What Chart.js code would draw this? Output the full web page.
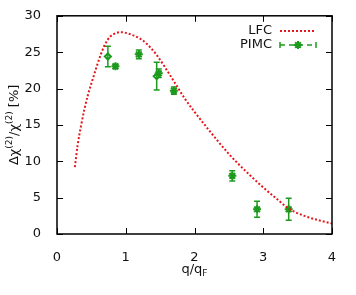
<!DOCTYPE html>
<html lang="en">
<head>
<meta charset="UTF-8" />
<title>LFC vs PIMC</title>
<script src="https://cdn.jsdelivr.net/npm/chart.js@4.4.1/dist/chart.umd.min.js"></script>
<style>
  html, body { margin: 0; padding: 0; background: #fff; }
  #wrap { width: 356px; height: 295px; }
</style>
</head>
<body>
<div id="wrap"><canvas id="c"></canvas></div>
<script>
// LFC curve
const lfcQ   = [0.26, 0.30, 0.35, 0.40, 0.45, 0.53, 0.63, 0.70, 0.77, 0.85, 0.92, 1.00, 1.10, 1.21, 1.30, 1.45, 1.64, 1.86, 2.00, 2.20, 2.50, 2.81, 3.00, 3.20, 3.37, 3.61, 3.80, 4.00];
const lfcVal = [9.2, 12.2, 14.9, 17.2, 19.1, 21.6, 24.5, 26.1, 27.1, 27.6, 27.75, 27.65, 27.35, 26.85, 26.2, 24.6, 21.9, 18.6, 16.8, 14.4, 11.0, 8.05, 6.4, 4.8, 3.5, 2.45, 1.9, 1.45];

// PIMC points (star markers)
const pimcQ   = [0.85, 1.19, 1.48, 1.70, 2.55, 2.91, 3.37];
const pimcVal = [23.05, 24.7, 22.1, 19.7, 8.0, 3.4, 3.4];
const pimcErr = [0.3, 0.6, 0.6, 0.5, 0.7, 1.1, 1.5];

// PIMC points (diamond markers)
const pimcDQ   = [0.74, 1.45];
const pimcDVal = [24.4, 21.7];
const pimcDErr = [1.4, 1.9];

const xTicks = [0, 1, 2, 3, 4];
const yTicks = [0, 5, 10, 15, 20, 25, 30];

const RED = '#e3171c';
const GREEN = '#1d9a1d';

function pts(xs, ys) { return xs.map((x, i) => ({ x: x, y: ys[i] })); }

// error bars, frame, inward ticks, titles and legend
const decor = {
  id: 'decor',
  beforeDatasetsDraw(chart) {
    const ctx = chart.ctx, xs = chart.scales.x, ys = chart.scales.y;
    ctx.save();
    ctx.strokeStyle = GREEN;
    ctx.lineWidth = 1.5;
    const bars = [[pimcQ, pimcVal, pimcErr], [pimcDQ, pimcDVal, pimcDErr]];
    bars.forEach(([q, v, e]) => {
      q.forEach((qq, i) => {
        const px = xs.getPixelForValue(qq);
        const top = ys.getPixelForValue(v[i] + e[i]);
        const bot = ys.getPixelForValue(v[i] - e[i]);
        ctx.beginPath();
        ctx.moveTo(px, top); ctx.lineTo(px, bot);
        ctx.moveTo(px - 3, top); ctx.lineTo(px + 3, top);
        ctx.moveTo(px - 3, bot); ctx.lineTo(px + 3, bot);
        ctx.stroke();
      });
    });
    ctx.restore();
  },
  afterDraw(chart) {
    const ctx = chart.ctx, a = chart.chartArea;
    const xs = chart.scales.x, ys = chart.scales.y;
    ctx.save();
    // frame
    ctx.strokeStyle = '#000';
    ctx.lineWidth = 1.5;
    ctx.strokeRect(a.left, a.top, a.right - a.left, a.bottom - a.top);
    // inward ticks
    ctx.lineWidth = 1;
    ctx.beginPath();
    xTicks.forEach(t => {
      const px = Math.round(xs.getPixelForValue(t)) + 0.5;
      ctx.moveTo(px, a.bottom); ctx.lineTo(px, a.bottom - 6);
      ctx.moveTo(px, a.top); ctx.lineTo(px, a.top + 6);
    });
    yTicks.forEach(t => {
      const py = Math.round(ys.getPixelForValue(t)) + 0.5;
      ctx.moveTo(a.left, py); ctx.lineTo(a.left + 6, py);
      ctx.moveTo(a.right, py); ctx.lineTo(a.right - 6, py);
    });
    ctx.stroke();

    // axis titles
    ctx.fillStyle = '#111';
    ctx.textBaseline = 'middle';
    const f = '13px "DejaVu Sans"', fs = '9px "DejaVu Sans"';
    // x title: q/q_F
    ctx.font = f;
    const w1 = ctx.measureText('q/q').width;
    ctx.font = fs;
    const w2 = ctx.measureText('F').width;
    const cx = (a.left + a.right) / 2;
    let x0 = cx - (w1 + w2) / 2;
    ctx.font = f; ctx.textAlign = 'left';
    ctx.fillText('q/q', x0, 270);
    ctx.font = fs;
    ctx.fillText('F', x0 + w1, 274);

    // y title rotated: Δχ(2)/χ(2) [%]
    ctx.translate(15, (a.top + a.bottom) / 2);
    ctx.rotate(-Math.PI / 2);
    const parts = [['Δχ', f, 0], ['(2)', fs, -5], ['/χ', f, 0], ['(2)', fs, -5], [' [%]', f, 0]];
    let tw = 0;
    parts.forEach(p => { ctx.font = p[1]; tw += ctx.measureText(p[0]).width; });
    let px = -tw / 2;
    parts.forEach(p => {
      ctx.font = p[1];
      ctx.fillText(p[0], px, p[2]);
      px += ctx.measureText(p[0]).width;
    });
    ctx.setTransform(1, 0, 0, 1, 0, 0);

    // legend
    ctx.font = f;
    ctx.textAlign = 'right';
    ctx.fillStyle = '#111';
    ctx.fillText('LFC', 272, 31);
    ctx.fillText('PIMC', 272, 45);
    ctx.strokeStyle = RED;
    ctx.lineWidth = 2;
    ctx.setLineDash([2, 2]);
    ctx.beginPath(); ctx.moveTo(280, 31); ctx.lineTo(316, 31); ctx.stroke();
    ctx.strokeStyle = GREEN;
    ctx.lineWidth = 1.5;
    ctx.setLineDash([5, 4]);
    ctx.beginPath(); ctx.moveTo(280, 45); ctx.lineTo(316, 45); ctx.stroke();
    ctx.setLineDash([]);
    ctx.beginPath();
    ctx.moveTo(280, 42); ctx.lineTo(280, 48);
    ctx.moveTo(316, 42); ctx.lineTo(316, 48);
    ctx.stroke();
    // star in legend
    ctx.beginPath();
    const r = 4;
    for (let k = 0; k < 4; k++) {
      const ang = k * Math.PI / 4;
      ctx.moveTo(298 - r * Math.cos(ang), 45 - r * Math.sin(ang));
      ctx.lineTo(298 + r * Math.cos(ang), 45 + r * Math.sin(ang));
    }
    ctx.lineWidth = 2;
    ctx.stroke();
    ctx.restore();
  }
};

const ctx = document.getElementById('c').getContext('2d');
const chart = new Chart(ctx, {
  type: 'scatter',
  data: {
    datasets: [
      {
        label: 'LFC',
        type: 'line',
        data: pts(lfcQ, lfcVal),
        borderColor: RED,
        borderWidth: 2,
        borderDash: [2, 2],
        pointRadius: 0,
        cubicInterpolationMode: 'monotone',
        fill: false,
      },
      {
        label: 'PIMC',
        data: pts(pimcQ, pimcVal),
        pointStyle: 'star',
        pointRadius: 4,
        borderColor: GREEN,
        backgroundColor: GREEN,
        borderWidth: 2,
      },
      {
        label: 'PIMC2',
        data: pts(pimcDQ, pimcDVal),
        pointStyle: 'rectRot',
        pointRadius: 3,
        borderColor: GREEN,
        backgroundColor: 'rgba(255,255,255,0)',
        borderWidth: 2,
      },
    ],
  },
  options: {
    responsive: true,
    maintainAspectRatio: false,
    animation: false,
    events: [],
    layout: { padding: { top: 14, right: 24, left: 0, bottom: 0 } },
    plugins: { legend: { display: false }, tooltip: { enabled: false } },
    scales: {
      x: {
        type: 'linear',
        min: 0, max: 4,
        afterFit(s) { s.height = 61; },
        afterBuildTicks(s) { s.ticks = xTicks.map(v => ({ value: v })); },
        grid: { display: false },
        border: { display: false },
        ticks: { color: '#111', padding: 8, font: { family: 'DejaVu Sans', size: 13 } },
      },
      y: {
        type: 'linear',
        min: 0, max: 30,
        afterFit(s) { s.width = 57; },
        afterBuildTicks(s) { s.ticks = yTicks.map(v => ({ value: v })); },
        grid: { display: false },
        border: { display: false },
        ticks: { color: '#111', padding: 8, font: { family: 'DejaVu Sans', size: 13 } },
      },
    },
  },
  plugins: [decor],
});
</script>
</body>
</html>
